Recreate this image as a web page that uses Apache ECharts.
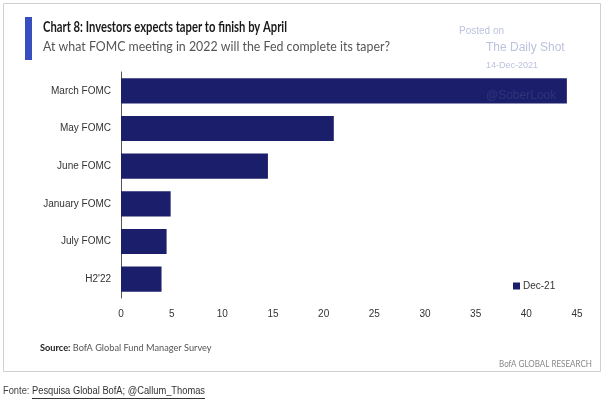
<!DOCTYPE html>
<html><head><meta charset="utf-8">
<script src="https://cdn.jsdelivr.net/npm/echarts@6/dist/echarts.min.js"></script>
<style>html,body{margin:0;padding:0;background:#fff}#c{width:604px;height:406px}</style>
</head><body><div id="c"></div>
<script>
const categories = ["March FOMC", "May FOMC", "June FOMC", "January FOMC", "July FOMC", "H2'22"];
const values = [44.0, 21.0, 14.5, 4.9, 4.5, 4.0];
const seriesName = "Dec-21";
const xTicks = {min: 0, max: 45, interval: 5};
const titleText = "Chart 8: Investors expects taper to finish by April";
const subtitleText = "At what FOMC meeting in 2022 will the Fed complete its taper?";
const sourceLabel = "Source:";
const sourceText = " BofA Global Fund Manager Survey";
const brandText = "BofA GLOBAL RESEARCH";
const fonteLabel = "Fonte: ";
const fonteLink = "Pesquisa Global BofA; @Callum_Thomas";

const ctx = document.createElement('canvas').getContext('2d');
function w(font, s) { ctx.font = font; return ctx.measureText(s).width; }
function fit(font, s, target) { return target / w(font, s); }

const fTitle = 'bold 15px Lato';
const fSub = '13.5px Lato';
const fSrc = '10px Lato';
const fFonte = '10px "Liberation Sans"';

const srcScale = fit(fSrc, sourceLabel + sourceText, 171);
const fonteScale = fit(fFonte, fonteLabel + fonteLink, 202);
const linkX = 3 + w(fFonte, fonteLabel) * fonteScale;

const chart = echarts.init(document.getElementById('c'), null, {renderer: 'canvas'});
const wm = '#bcc2dd';
chart.setOption({
  animation: false,
  backgroundColor: '#fff',
  grid: {left: 121, right: 27, top: 72, bottom: 108},
  legend: {
    data: [seriesName], left: 508, top: 276, icon: 'rect', itemWidth: 7, itemHeight: 7, itemGap: 3,
    textStyle: {fontFamily: 'Liberation Sans', fontSize: 10, color: '#333', padding: [0,0,0,-2]}
  },
  xAxis: {
    type: 'value', min: xTicks.min, max: xTicks.max, interval: xTicks.interval,
    axisLine: {show: false}, axisTick: {show: false}, splitLine: {show: false},
    axisLabel: {fontFamily: 'Liberation Sans', fontSize: 10, color: '#333', margin: 11}
  },
  yAxis: {
    type: 'category', data: categories, inverse: true,
    axisLine: {show: true, lineStyle: {color: '#555', width: 1}},
    axisTick: {show: false},
    axisLabel: {fontFamily: 'Liberation Sans', fontSize: 10, color: '#333', margin: 10}
  },
  series: [{
    name: seriesName, type: 'bar', data: values, barCategoryGap: '33%',
    itemStyle: {color: '#1b1f6b'}
  }],
  graphic: [
    {type: 'rect', shape: {x: 3.5, y: 3.5, width: 597, height: 368}, style: {fill: 'none', stroke: '#d0d0d0', lineWidth: 1}, z: -10},
    {type: 'rect', shape: {x: 25, y: 17, width: 7, height: 43}, style: {fill: '#3a4fbf'}},
    {type: 'text', x: 43, y: 20, scaleX: fit(fTitle, titleText, 244), style: {text: titleText, font: fTitle, fill: '#1a1a1a', verticalAlign: 'top'}},
    {type: 'text', x: 43, y: 40, scaleX: fit(fSub, subtitleText, 347), style: {text: subtitleText, font: fSub, fill: '#555', verticalAlign: 'top'}},
    {type: 'text', x: 459, y: 26, style: {text: 'Posted on', font: '10px "Liberation Sans"', fill: wm, verticalAlign: 'top'}},
    {type: 'text', x: 486, y: 42, style: {text: 'The Daily Shot', font: '12px "Liberation Sans"', fill: wm, verticalAlign: 'top'}},
    {type: 'text', x: 486, y: 61, style: {text: '14-Dec-2021', font: '9px "Liberation Sans"', fill: wm, verticalAlign: 'top'}},
    {type: 'text', x: 486, y: 90, z: 100, style: {text: '@SoberLook', font: '12px "Liberation Sans"', fill: 'rgba(190,195,225,0.12)', verticalAlign: 'top'}},
    {type: 'text', x: 40, y: 343, scaleX: srcScale, style: {text: '{b|' + sourceLabel + '}' + sourceText, font: fSrc, fill: '#555', verticalAlign: 'top',
      rich: {b: {fontFamily: 'Lato', fontWeight: 'bold', fontSize: 10, fill: '#222'}}}},
    {type: 'text', x: 592, y: 359, scaleX: fit(fSrc, brandText, 93), style: {text: brandText, font: fSrc, fill: '#888', align: 'right', verticalAlign: 'top'}},
    {type: 'text', x: 3, y: 386, scaleX: fonteScale, style: {text: fonteLabel, font: fFonte, fill: '#444', verticalAlign: 'top'}},
    {type: 'text', x: linkX, y: 386, scaleX: fonteScale, style: {text: fonteLink, font: fFonte, fill: '#333', verticalAlign: 'top'}},
    {type: 'line', shape: {x1: linkX, y1: 398.5, x2: 205, y2: 398.5}, style: {stroke: '#333', lineWidth: 1}}
  ]
});
</script></body></html>
